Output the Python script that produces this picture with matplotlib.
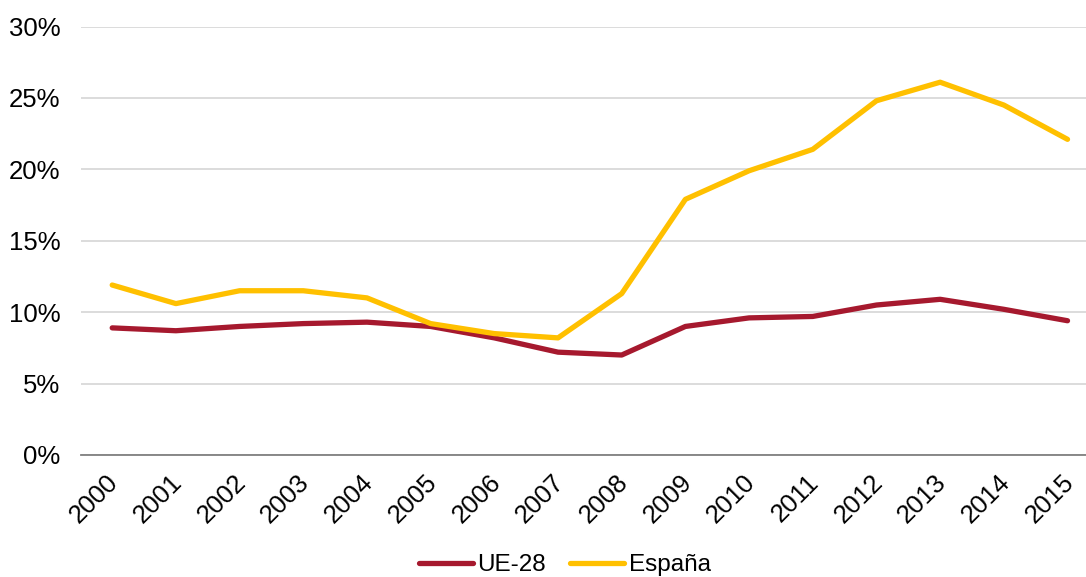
import matplotlib
matplotlib.use("Agg")
import matplotlib.pyplot as plt
from matplotlib.ticker import FuncFormatter
from matplotlib.transforms import ScaledTranslation

# datos (%)
years = [str(y) for y in range(2000, 2016)]
ue28 = [8.9, 8.7, 9.0, 9.2, 9.3, 9.0, 8.2, 7.2, 7.0, 9.0, 9.6, 9.7, 10.5, 10.9, 10.2, 9.4]
espana = [11.9, 10.6, 11.5, 11.5, 11.0, 9.2, 8.5, 8.2, 11.3, 17.9, 19.9, 21.4, 24.8, 26.1, 24.5, 22.1]

plt.rcParams['font.family'] = ['Liberation Sans', 'DejaVu Sans']

W, H = 1086, 577
fig = plt.figure(figsize=(W / 100, H / 100), dpi=100)
ax = fig.add_axes([81 / W, 1 - 455 / H, 1 - 81 / W, (455 - 26.5) / H])

x = range(len(years))
ax.plot(x, ue28, color='#A6192E', lw=3.8, label='UE-28', solid_capstyle='round', zorder=3, clip_on=False)
ax.plot(x, espana, color='#FFC000', lw=3.8, label='España', solid_capstyle='round', zorder=3, clip_on=False)

ax.set_ylim(0, 30)
ax.set_yticks(range(0, 31, 5))
ax.yaxis.set_major_formatter(FuncFormatter(lambda v, p: f"{v:.0f}%"))
ax.set_xlim(-0.49, 15.29)
ax.set_xticks(list(x))
ax.set_xticklabels(years, rotation=45, ha='right', rotation_mode='anchor')

ax.grid(axis='y', color='#D9D9D9', lw=1.3)
ax.set_axisbelow(True)
for s in ['top', 'right', 'left']:
    ax.spines[s].set_visible(False)
ax.spines['bottom'].set_color('#808080')
ax.spines['bottom'].set_linewidth(1.3)
ax.tick_params(axis='both', length=0, labelsize=18.5)
ax.tick_params(axis='y', pad=15)
ax.tick_params(axis='x', pad=11)

# mover un poco los años a la izquierda
shift = ScaledTranslation(-6 / 100, 0, fig.dpi_scale_trans)
for lab in ax.get_xticklabels():
    lab.set_transform(lab.get_transform() + shift)

fig.legend(loc='center', bbox_to_anchor=(565 / W, 1 - 565 / H), ncol=2, frameon=False,
           fontsize=17.5, handlelength=2.2, handletextpad=0.2, columnspacing=1.0)

fig.savefig('out.png', dpi=100)
